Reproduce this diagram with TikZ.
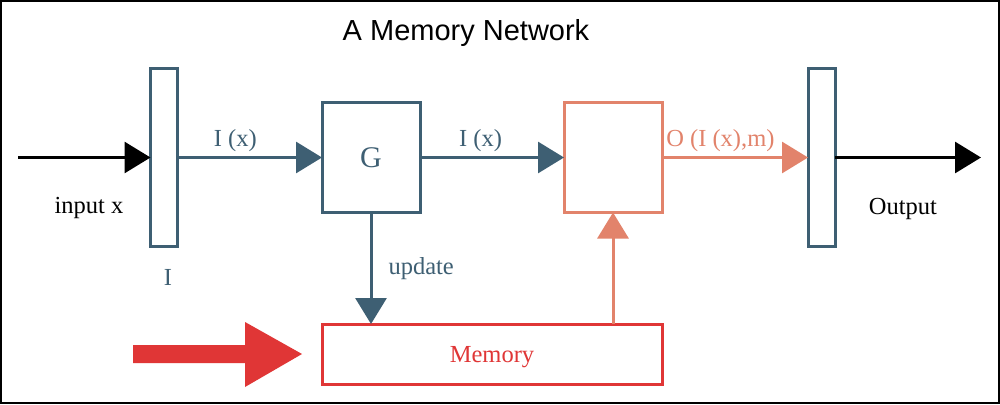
\documentclass[tikz,border=0pt]{standalone}
\usepackage{fontspec}
\setmainfont{Liberation Serif}
\newfontfamily\titlefont{Liberation Sans}
\usetikzlibrary{arrows.meta}
\definecolor{steel}{HTML}{3E5F73}
\definecolor{salmon}{HTML}{E2836B}
\definecolor{memred}{HTML}{E03636}
\tikzset{
  box/.style={draw, line width=3pt, inner sep=0pt, outer sep=0pt, fill=none},
  lbl/.style={font=\fontsize{24.5}{28}\selectfont, inner sep=0pt, anchor=base},
  conn/.style={line width=3pt, -{Triangle[length=26pt,width=31pt]}},
}
\begin{document}
\begin{tikzpicture}[x=1pt,y=-1pt]
\useasboundingbox (0,0) rectangle (1000,404);
\fill[white] (0,0) rectangle (1000,404);
\draw[line width=2pt] (1,1) rectangle (999,403);
% title
\node[inner sep=0pt, anchor=base, font=\titlefont\fontsize{29}{33}\selectfont] (title) at (466,41) {A Memory Network};
% boxes
\node[box, draw=steel, minimum width=27pt, minimum height=178pt] (bI) at (164,157.5) {};
\node[box, draw=steel, minimum width=27pt, minimum height=178pt] (bO) at (821.5,157.5) {};
\node[box, draw=steel, minimum width=98pt, minimum height=110pt] (G) at (371,157.5) {};
\node[box, draw=salmon, minimum width=98pt, minimum height=110pt] (S) at (613,157.5) {};
\node[box, draw=memred, minimum width=340pt, minimum height=60pt] (mem) at (492,354) {};
% texts
\node[lbl, text=steel, font=\fontsize{30}{34}\selectfont] (gl) at (371,167) {G};
\node[lbl, text=memred] (ml) at (492,362) {Memory};
\node[lbl, text=steel] (il) at (168,285) {I};
\node[lbl] (inl) at (89,213) {input x};
\node[lbl] (outl) at (903,214) {Output};
% connectors
\coordinate (inp) at (18,157.5);
\coordinate (outp) at (981,157.5);
\draw[conn, black] (inp) -- (bI.west);
\draw[conn, steel] (bI.east) -- node[lbl, pos=0.4, yshift=11pt] (ix1) {I (x)} (G.west);
\draw[conn, steel] (G.east) -- node[lbl, pos=0.42, yshift=11pt] (ix2) {I (x)} (S.west);
\draw[conn, salmon] (S.east) -- node[lbl, pos=0.4, yshift=11pt] (ol) {O (I (x),m)} (bO.west);
\draw[conn, black] (bO.east) -- (outp);
\draw[conn, steel] (G.south) -- node[lbl, pos=0.5, anchor=west, xshift=16pt] (up) {update} (G.south |- mem.north);
\draw[conn, salmon] (S.south |- mem.north) -- (S.south);
% big red arrow
\fill[memred] (133,345) -- (245,345) -- (245,322) -- (302,354) -- (245,387) -- (245,363) -- (133,363) -- cycle;
\end{tikzpicture}
\end{document}
